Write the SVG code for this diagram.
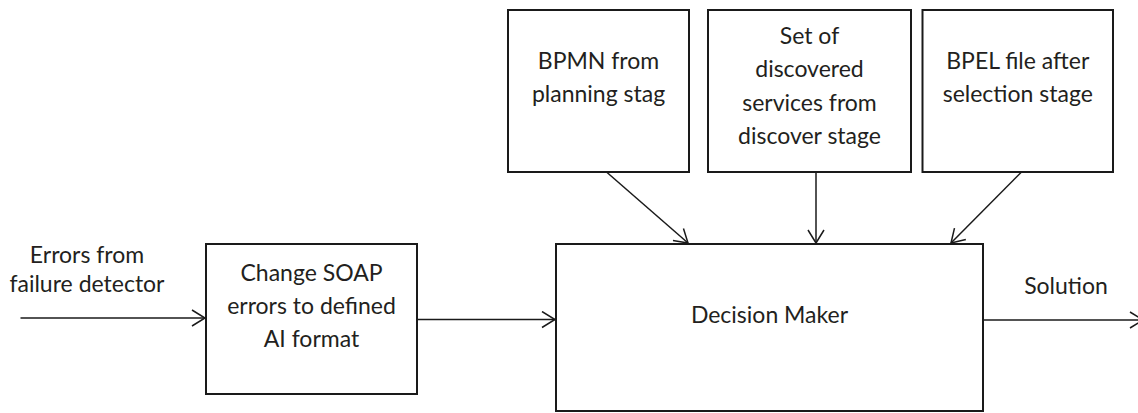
<svg xmlns="http://www.w3.org/2000/svg" width="1138" height="413" viewBox="0 0 1138 413">
<style>
.box{fill:#fff;stroke:#1a1a1a;stroke-width:2}
.lbl{font-family:Lato,"Open Sans","Liberation Sans",sans-serif;font-size:23px;fill:#231f20;text-anchor:middle}
.conn{stroke:#1a1a1a;stroke-width:1.5;fill:none;marker-end:url(#arr)}
</style>
<defs>
<marker id="arr" markerUnits="userSpaceOnUse" viewBox="0 0 16 18" markerWidth="16" markerHeight="18" refX="14" refY="9" orient="auto">
<path d="M1,1 L14,9 L1,17" fill="none" stroke="#1a1a1a" stroke-width="1.5"/>
</marker>
</defs>
<rect width="1138" height="413" fill="#fff"/>
<g id="connectors">
<path class="conn" d="M20.5,318 H205"/>
<path class="conn" d="M417,319.5 H555"/>
<path class="conn" d="M983,320 H1143"/>
<path class="conn" d="M606.5,172 L688,243"/>
<path class="conn" d="M816,172 V243"/>
<path class="conn" d="M1021.5,172 L951,243"/>
</g>
<g id="input-label">
<text class="lbl" x="87" y="263">Errors from</text>
<text class="lbl" x="87" y="292">failure detector</text>
</g>
<g id="change-soap">
<rect class="box" x="206" y="244" width="211" height="150"/>
<text class="lbl" x="311.5" y="281">Change SOAP</text>
<text class="lbl" x="311.5" y="314">errors to defined</text>
<text class="lbl" x="311.5" y="347">AI format</text>
</g>
<g id="decision-maker">
<rect class="box" x="556" y="244" width="427" height="167"/>
<text class="lbl" x="769.5" y="323">Decision Maker</text>
</g>
<g id="solution-label">
<text class="lbl" x="1066" y="294">Solution</text>
</g>
<g id="bpmn">
<rect class="box" x="508" y="10" width="181" height="162"/>
<text class="lbl" x="598.5" y="69">BPMN from</text>
<text class="lbl" x="598.5" y="102">planning stag</text>
</g>
<g id="discovered">
<rect class="box" x="708" y="10" width="203" height="162"/>
<text class="lbl" x="809.5" y="43.5">Set of</text>
<text class="lbl" x="809.5" y="77">discovered</text>
<text class="lbl" x="809.5" y="110.5">services from</text>
<text class="lbl" x="809.5" y="144">discover stage</text>
</g>
<g id="bpel">
<rect class="box" x="922.5" y="10" width="190.5" height="162"/>
<text class="lbl" x="1017.75" y="69">BPEL file after</text>
<text class="lbl" x="1017.75" y="102">selection stage</text>
</g>
</svg>
